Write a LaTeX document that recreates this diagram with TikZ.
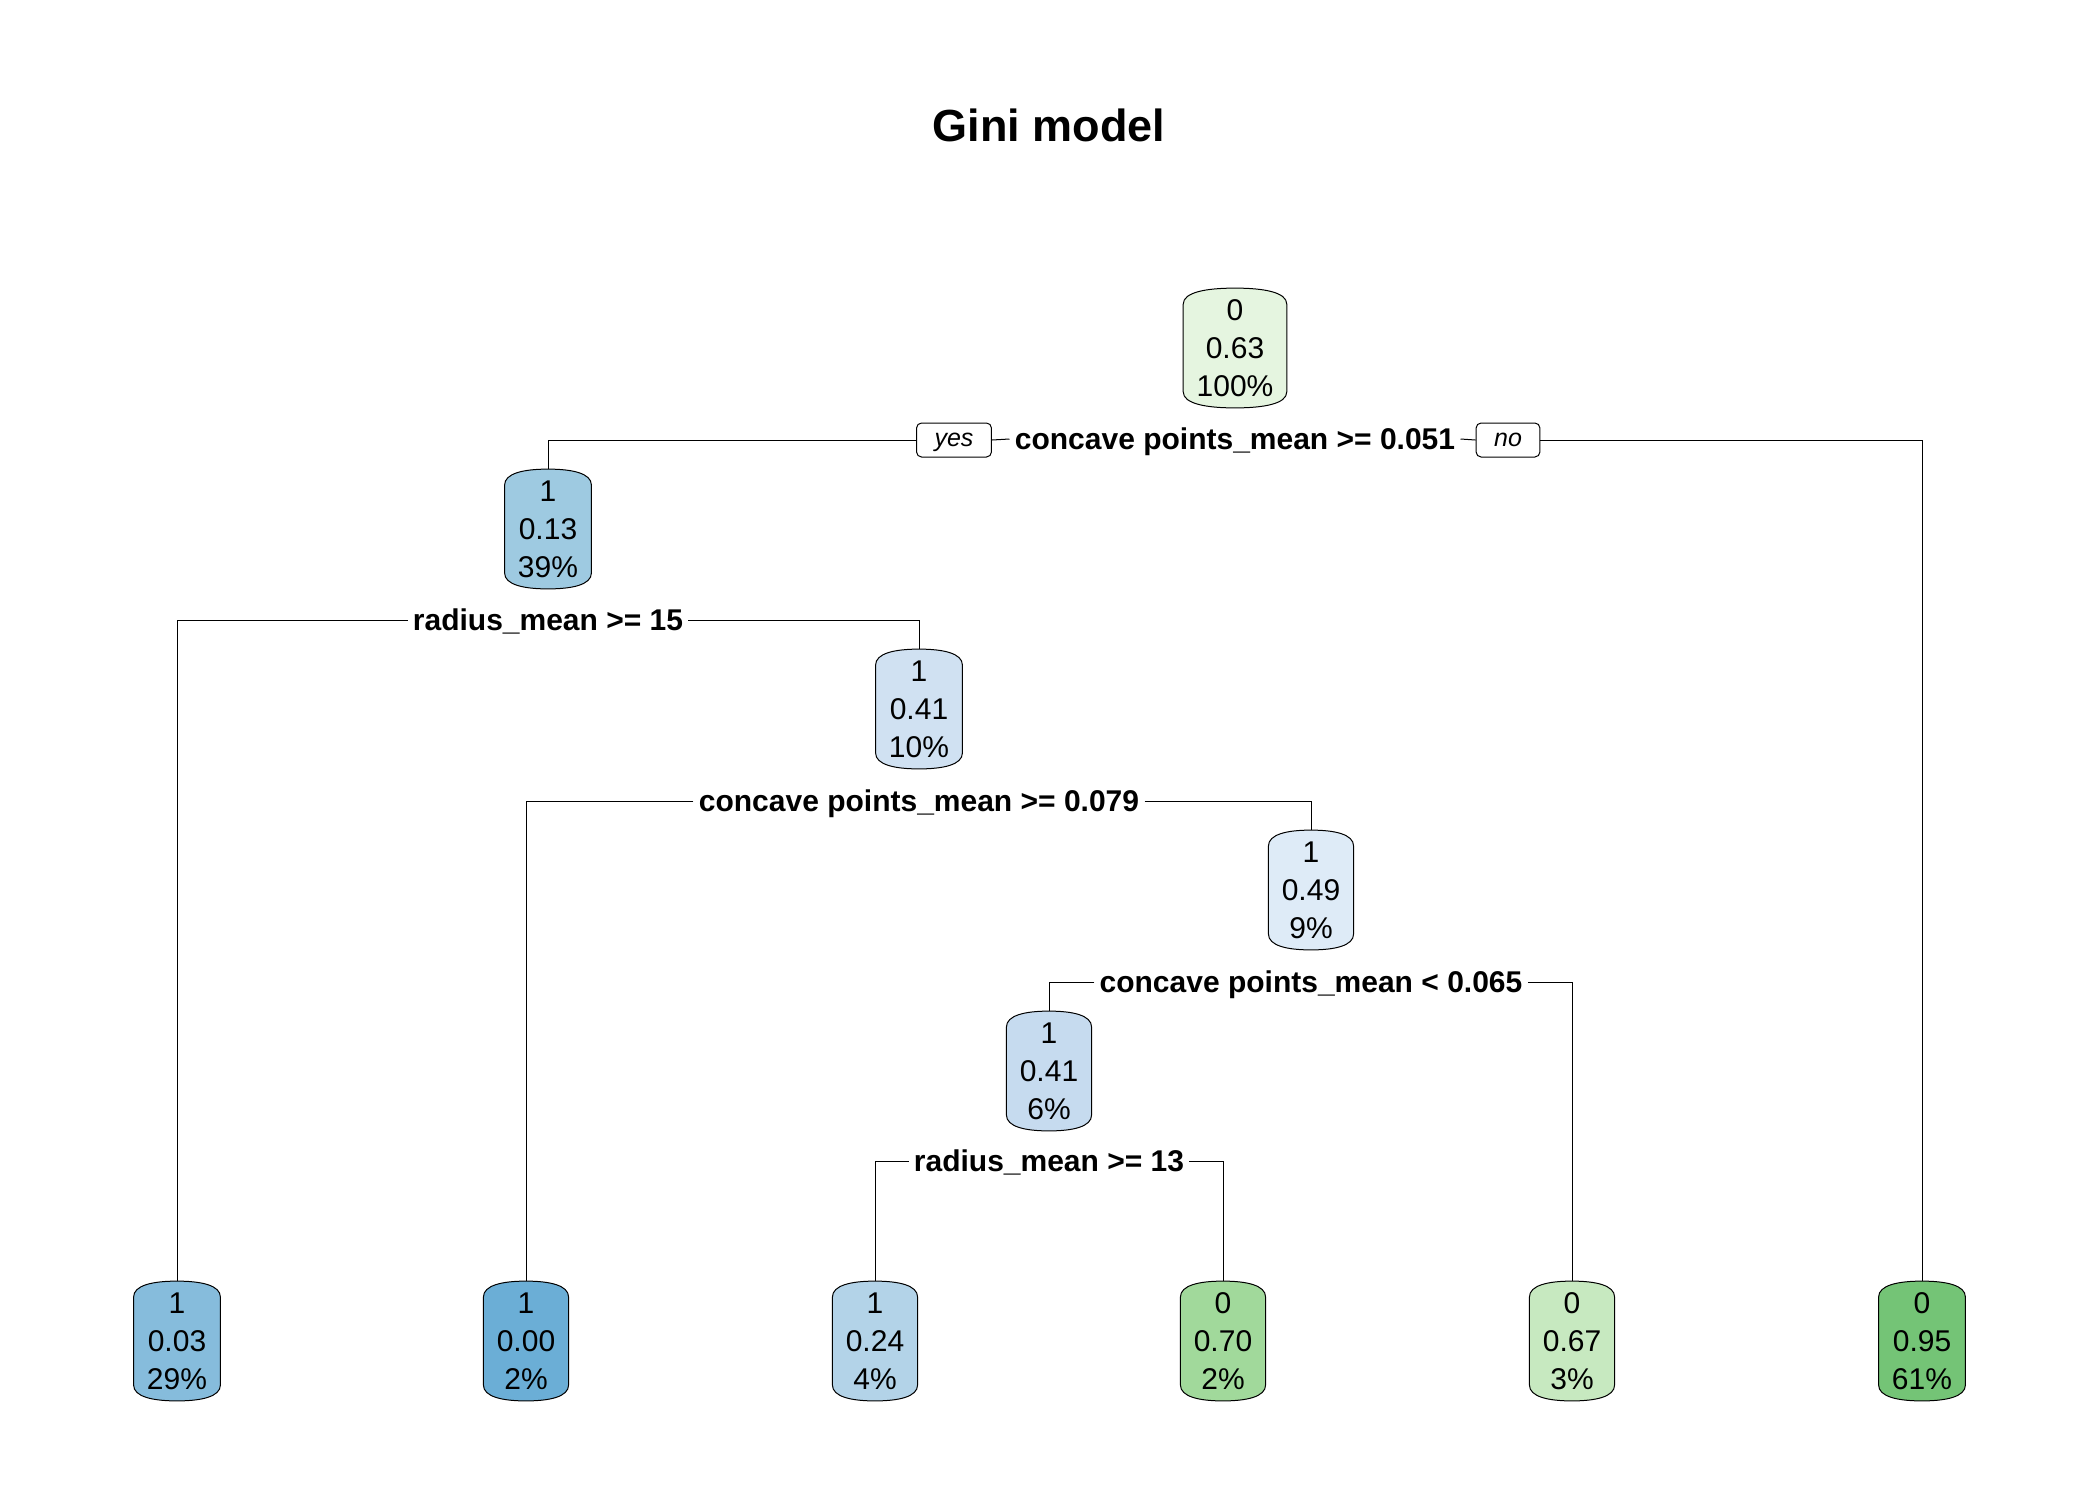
\documentclass[tikz,border=0pt]{standalone}
\usepackage{fontspec}
\setmainfont{Liberation Sans}
\usetikzlibrary{calc}
\pgfdeclarelayer{bglayer}
\pgfsetlayers{bglayer,main}
\definecolor{cRoot}{HTML}{E5F5E0}
\definecolor{cN2}{HTML}{9ECAE1}
\definecolor{cN3}{HTML}{D0E1F2}
\definecolor{cN4}{HTML}{DEEBF7}
\definecolor{cN5}{HTML}{C6DBEF}
\definecolor{cL1}{HTML}{86BCDC}
\definecolor{cL2}{HTML}{6BAED6}
\definecolor{cL3}{HTML}{B3D3E8}
\definecolor{cL4}{HTML}{A1D99B}
\definecolor{cL5}{HTML}{C7E9C0}
\definecolor{cL6}{HTML}{74C476}
\tikzset{
  tnode/.style={inner xsep=6.5pt, inner ysep=0pt, minimum height=59.5pt, align=center,
    font=\fontsize{15}{19}\selectfont},
  barrelpath/.style={draw=black, line width=0.5pt},
  splitlab/.style={inner xsep=2.5pt, inner ysep=0pt, font=\bfseries\fontsize{15}{18}\selectfont,
    text height=10.7pt, text depth=0pt},
  yn/.style={draw, line width=0.5pt, rounded corners=2.5pt, fill=white,
    font=\itshape\fontsize{12.5}{14}\selectfont, inner xsep=9pt, inner ysep=0pt,
    minimum height=17pt, text height=6.5pt, text depth=0pt},
  conn/.style={line width=0.5pt, draw=black},
  titlestyle/.style={font=\bfseries\fontsize{22.5}{26}\selectfont, text height=16.1pt, text depth=0pt, inner sep=0pt},
}
\newcommand{\barrelbox}[2]{%
  \begin{pgfonlayer}{bglayer}
  \path[barrelpath, fill=#2]
    ([yshift=-8pt]#1.north west)
      .. controls ([yshift=-2pt]#1.north west) and ($(#1.north west)!0.45!(#1.north)$) .. (#1.north)
      .. controls ($(#1.north east)!0.45!(#1.north)$) and ([yshift=-2pt]#1.north east) .. ([yshift=-8pt]#1.north east)
    -- ([yshift=8pt]#1.south east)
      .. controls ([yshift=2pt]#1.south east) and ($(#1.south east)!0.45!(#1.south)$) .. (#1.south)
      .. controls ($(#1.south west)!0.45!(#1.south)$) and ([yshift=2pt]#1.south west) .. ([yshift=8pt]#1.south west)
    -- cycle;
  \end{pgfonlayer}}
\begin{document}
\begin{tikzpicture}[x=0.5pt, y=-0.5pt]
\begin{pgfonlayer}{bglayer}
\useasboundingbox[fill=white] (0,0) rectangle (2100,1500);
\end{pgfonlayer}

\node[titlestyle] (title) at (1049,125) {Gini model};

% internal nodes
\node[tnode] (root) at (1235,348) {0\\0.63\\100\%};
\node[tnode] (n2) at (548,529) {1\\0.13\\39\%};
\node[tnode] (n3) at (919,709) {1\\0.41\\10\%};
\node[tnode] (n4) at (1311,890) {1\\0.49\\9\%};
\node[tnode] (n5) at (1049,1071) {1\\0.41\\6\%};

% leaves
\node[tnode] (l1) at (177,1341) {1\\0.03\\29\%};
\node[tnode] (l2) at (526,1341) {1\\0.00\\2\%};
\node[tnode] (l3) at (875,1341) {1\\0.24\\4\%};
\node[tnode] (l4) at (1223,1341) {0\\0.70\\2\%};
\node[tnode] (l5) at (1572,1341) {0\\0.67\\3\%};
\node[tnode] (l6) at (1922,1341) {0\\0.95\\61\%};

\barrelbox{root}{cRoot}
\barrelbox{n2}{cN2}
\barrelbox{n3}{cN3}
\barrelbox{n4}{cN4}
\barrelbox{n5}{cN5}
\barrelbox{l1}{cL1}
\barrelbox{l2}{cL2}
\barrelbox{l3}{cL3}
\barrelbox{l4}{cL4}
\barrelbox{l5}{cL5}
\barrelbox{l6}{cL6}

% split labels
\node[splitlab] (s1) at (1235,439) {concave points\_mean >= 0.051};
\node[splitlab] (s2) at (548,620) {radius\_mean >= 15};
\node[splitlab] (s3) at (919,801) {concave points\_mean >= 0.079};
\node[splitlab] (s4) at (1311,982) {concave points\_mean < 0.065};
\node[splitlab] (s5) at (1049,1161) {radius\_mean >= 13};

\node[yn] (yes) at (954,440) {yes};
\node[yn] (no) at (1508,440) {no};

% connectors
\draw[conn] (yes.east) -- (s1.west);
\draw[conn] (yes.west) -| (n2.north);
\draw[conn] (s1.east) -- (no.west);
\draw[conn] (no.east) -| (l6.north);
\draw[conn] (s2.west) -| (l1.north);
\draw[conn] (s2.east) -| (n3.north);
\draw[conn] (s3.west) -| (l2.north);
\draw[conn] (s3.east) -| (n4.north);
\draw[conn] (s4.west) -| (n5.north);
\draw[conn] (s4.east) -| (l5.north);
\draw[conn] (s5.west) -| (l3.north);
\draw[conn] (s5.east) -| (l4.north);
\end{tikzpicture}
\end{document}
